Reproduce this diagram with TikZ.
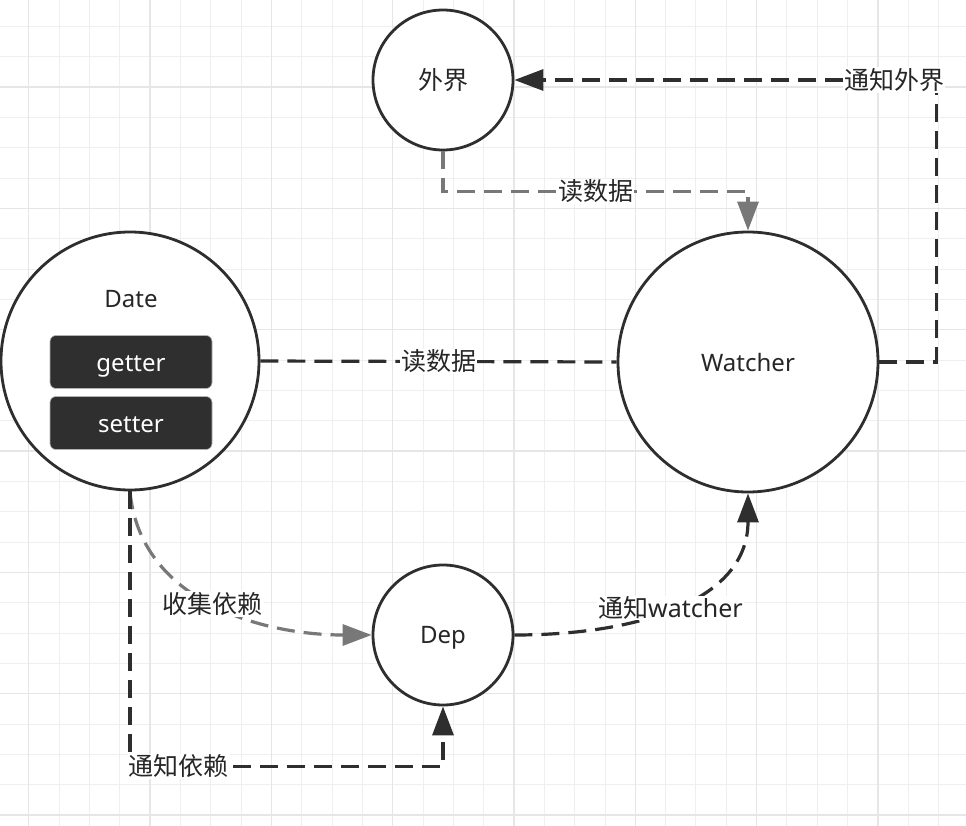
\documentclass[tikz,border=0pt]{standalone}
\usepackage{fontspec}
\setmainfont{Noto Sans}
\newfontfamily\cjk{Noto Sans CJK SC}
\usetikzlibrary{arrows.meta}
\definecolor{ink}{HTML}{2E2E2E}
\definecolor{grayline}{HTML}{787878}
\definecolor{gridminor}{HTML}{EFEFEF}
\definecolor{gridmajor}{HTML}{E6E6E6}
\definecolor{boxfill}{HTML}{2F2F2F}
\definecolor{txt}{HTML}{262626}
\begin{document}
\begin{tikzpicture}[x=1pt,y=-1pt,
  circ/.style={circle, draw=ink, line width=2.8pt, fill=white, inner sep=0pt},
  conn/.style={draw=ink, line width=3.2pt, dash pattern=on 18pt off 9pt},
  connlight/.style={conn, draw=grayline},
  tip/.style={-{Triangle[length=29pt,width=21pt]}},
  lbl/.style={fill=white, inner sep=1pt, text=txt, font=\fontsize{25}{25}\selectfont\cjk},
  txtlbl/.style={text=txt, font=\fontsize{24}{24}\selectfont},
  gbox/.style={rounded corners=6pt, fill=boxfill, draw=gray!60, line width=0.6pt, minimum width=162pt, minimum height=53pt, text=white, font=\fontsize{24}{24}\selectfont, text height=19pt, text depth=0pt}
]
\useasboundingbox (0,0) rectangle (966,826);
\fill[white] (0,0) rectangle (966,826);
% grid
\foreach \i in {0,...,32}{\draw[gridminor, line width=1pt] ({-1.6+\i*30.33},0) -- ++(0,826);}
\foreach \j in {0,...,27}{\draw[gridminor, line width=1pt] (0,{-3.9+\j*30.33}) -- ++(966,0);}
\foreach \i in {1,5,...,33}{\draw[gridmajor, line width=1.3pt] ({-1.6+\i*30.33},0) -- ++(0,826);}
\foreach \j in {3,7,...,27}{\draw[gridmajor, line width=1.3pt] (0,{-3.9+\j*30.33}) -- ++(966,0);}
% nodes
\node[circ, minimum size=140pt, text=txt, font=\fontsize{25}{25}\selectfont\cjk] (waijie) at (443,80) {外界};
\node[circ, minimum size=258pt] (date) at (130,361) {};
\node[txtlbl] (datelbl) at (131,299) {Date};
\node[gbox] (getter) at (131,362) {getter};
\node[gbox] (setter) at (131,423) {setter};
\node[circ, minimum size=260pt, txtlbl] (watcher) at (748,362) {Watcher};
\node[circ, minimum size=140pt, txtlbl, text depth=0pt] (dep) at (443,635) {Dep};
% connectors
\draw[conn] (date.east) -- node[lbl]{读数据} (watcher.west);
\draw[conn, tip] (watcher.east) -- ++(57,0) |- node[lbl,pos=0.55]{通知外界} (waijie.east);
\draw[connlight, tip] (waijie.south) -- ++(0,40) -| node[lbl,pos=0.25]{读数据} (watcher.north);
\draw[connlight, tip] (date.south) .. controls (140,600) and (260,635) .. node[lbl]{收集依赖} (dep.west);
\draw[conn, tip] (date.south) -- ++(0,275) -| node[lbl,pos=0.078]{通知依赖} (dep.south);
\draw[conn, tip] (dep.east) .. controls (640,635) and (748,600) .. node[lbl,pos=0.47]{通知{\normalfont watcher}} (watcher.south);
\end{tikzpicture}
\end{document}
